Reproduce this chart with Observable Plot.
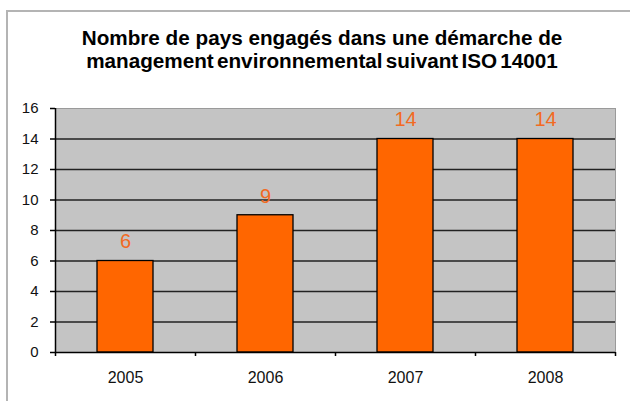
<!DOCTYPE html>
<html>
<head>
<meta charset="utf-8">
<script src="https://cdn.jsdelivr.net/npm/d3@7"></script>
<script src="https://cdn.jsdelivr.net/npm/@observablehq/plot@0.6"></script>
<style>
  html, body { margin: 0; padding: 0; background: #fff; }
  #wrap { position: relative; width: 630px; height: 401px; overflow: hidden; font-family: "Liberation Sans", Arial, sans-serif; }
  #border { position: absolute; left: 6px; top: 10px; width: 640px; height: 420px; border-left: 2px solid #b4b4b4; border-top: 2px solid #b4b4b4; box-sizing: border-box; }
  #title { position: absolute; left: 22px; width: 600px; top: 26px; text-align: center; font-weight: bold; font-size: 20.7px; line-height: 23px; color: #000; }
  #title .l2 { word-spacing: -2.5px; }
  #chart { position: absolute; left: 0; top: 80px; }
</style>
</head>
<body>
<div id="wrap">
  <div id="border"></div>
  <div id="title"><span>Nombre de pays engagés dans une démarche de</span><br><span class="l2">management environnemental suivant ISO 14001</span></div>
  <div id="chart"></div>
</div>
<script>
const years = ["2005", "2006", "2007", "2008"];
const counts = [6, 9, 14, 14];
const yTicks = [0, 2, 4, 6, 8, 10, 12, 14, 16];

const data = years.map((year, i) => ({ year, count: counts[i], i }));

const chart = Plot.plot({
  width: 630,
  height: 321,
  marginLeft: 55,
  marginRight: 15,
  marginTop: 28,
  marginBottom: 49,
  x: { type: "linear", domain: [0, years.length], axis: null },
  y: { domain: [0, 16], axis: null },
  style: { fontFamily: "'Liberation Sans', Arial, sans-serif", background: "transparent", color: "#000" },
  marks: [
    Plot.frame({ fill: "#c4c4c4", stroke: "#9a9a9a" }),
    Plot.ruleY(yTicks.filter(t => t > 0 && t < 16), { stroke: "#222", strokeWidth: 1.5 }),
    Plot.rectY(data, { x1: d => d.i + 0.3, x2: d => d.i + 0.7, y: "count", fill: "#ff6600", stroke: "#000", strokeWidth: 1.3 }),
    Plot.text(data, { x: d => d.i + 0.5, y: "count", text: d => String(d.count), dy: -19, fill: "#f26a22", fontSize: 20 }),
    Plot.ruleX([0], { stroke: "#000", strokeWidth: 1.5 }),
    Plot.ruleY([0], { stroke: "#000", strokeWidth: 1.5 }),
    Plot.axisY({ ticks: yTicks, tickSize: 5, tickPadding: 12, fontSize: 15, stroke: "#000", strokeWidth: 1.5, fill: "#111", label: null }),
    Plot.axisX({ ticks: d3.range(years.length + 1), tickSize: 4, tickFormat: () => "", stroke: "#000", strokeWidth: 1.5, label: null }),
    Plot.axisX({ ticks: data.map(d => d.i + 0.5), tickSize: 0, tickPadding: 19, fontSize: 16, fill: "#111", label: null, tickFormat: v => years[Math.floor(v)] })
  ]
});
document.getElementById("chart").appendChild(chart);
</script>
</body>
</html>
